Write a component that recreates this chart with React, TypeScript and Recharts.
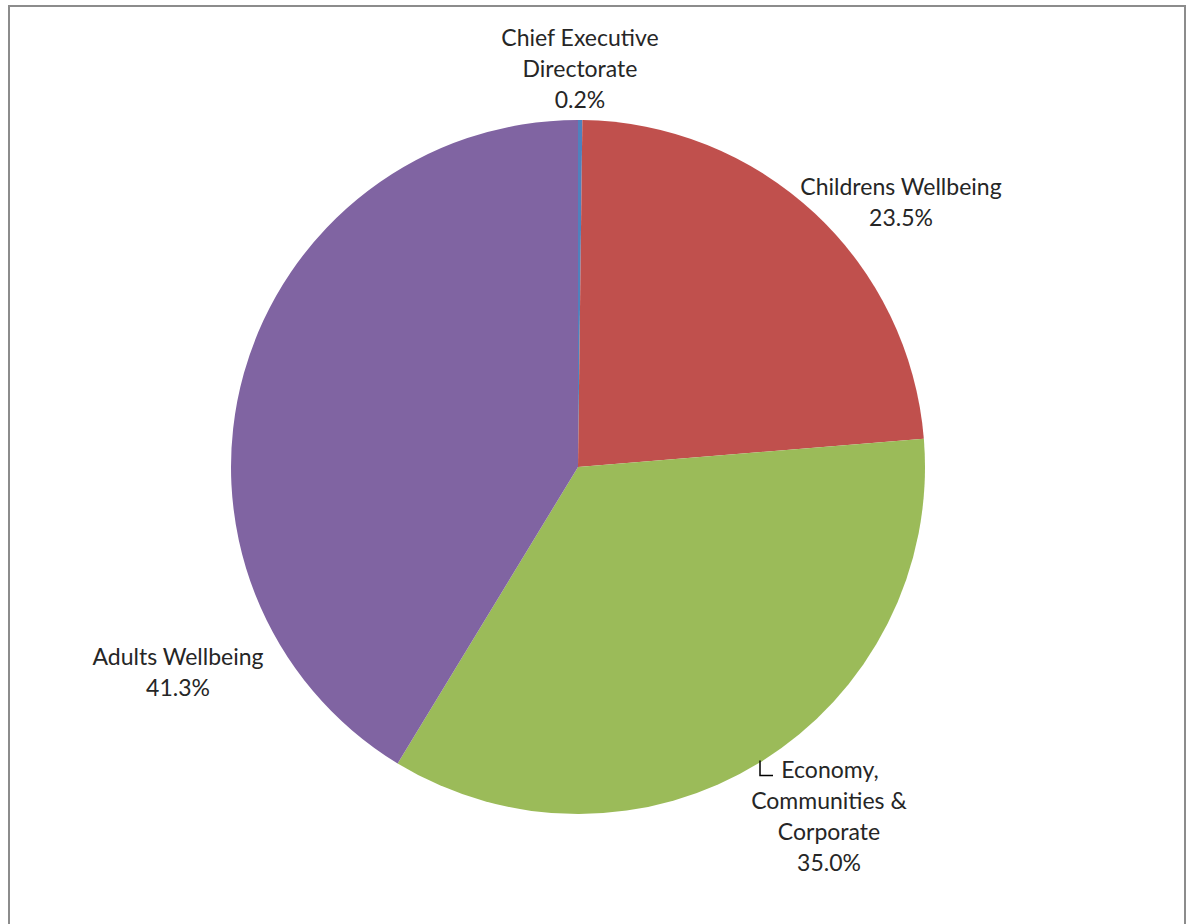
import React from 'react';
import { PieChart, Pie, Cell } from 'recharts';

const directorates = ['Chief Executive Directorate', 'Childrens Wellbeing', 'Economy, Communities & Corporate', 'Adults Wellbeing'];
const shares = [0.2, 23.5, 35.0, 41.3];
const colors = ['#4F81BD', '#C0504D', '#9BBB59', '#8064A2'];
// how each label is broken into lines
const labelLines = [
  ['Chief Executive', 'Directorate'],
  ['Childrens Wellbeing'],
  ['Economy,', 'Communities &', 'Corporate'],
  ['Adults Wellbeing'],
];
// label block centre, relative to pie centre
const labelOffsets = [
  [2, -399],
  [323, -266],
  [251, 348],
  [-400, 204],
];

const data = directorates.map((name, i) => ({ name, value: shares[i] }));

const LINE_H = 31;

const renderLabel = (props: any) => {
  const { cx, cy, index, value } = props;
  const lines = [...labelLines[index], `${value.toFixed(1)}%`];
  const [ox, oy] = labelOffsets[index];
  const x = cx + ox;
  const top = cy + oy - ((lines.length - 1) * LINE_H) / 2;
  return (
    <g>
      {index === 2 && (
        <path d={`M${x - 69},${top - 8} L${x - 69},${top + 7} L${x - 56},${top + 7}`} stroke="#000" strokeWidth={1.5} fill="none" />
      )}
      <text x={x} y={top} textAnchor="middle" fill="#262626" fontFamily="Lato, 'Open Sans', sans-serif" fontSize={23}>
        {lines.map((l, k) => (
          <tspan key={k} x={index === 2 && k === 0 ? x + 1 : x} dy={k === 0 ? 0 : LINE_H} dominantBaseline="central">
            {l}
          </tspan>
        ))}
      </text>
    </g>
  );
};

export default function App() {
  return (
    <div style={{ position: 'absolute', left: 0, top: 0, width: 1191, height: 924, overflow: 'hidden', background: '#fff' }}>
      <div style={{ position: 'absolute', left: 8, top: 5, width: 1174, height: 940, border: '2px solid #8c8c8c' }} />
      <PieChart width={1191} height={924} margin={{ top: 0, right: 0, bottom: 0, left: 0 }} style={{ position: 'absolute', left: 0, top: 0 }}>
        <Pie
          data={data}
          dataKey="value"
          nameKey="name"
          cx={578}
          cy={467}
          outerRadius={347}
          startAngle={90}
          endAngle={-270}
          stroke="none"
          label={renderLabel}
          labelLine={false}
          isAnimationActive={false}
        >
          {data.map((d, i) => (
            <Cell key={d.name} fill={colors[i]} />
          ))}
        </Pie>
      </PieChart>
    </div>
  );
}
